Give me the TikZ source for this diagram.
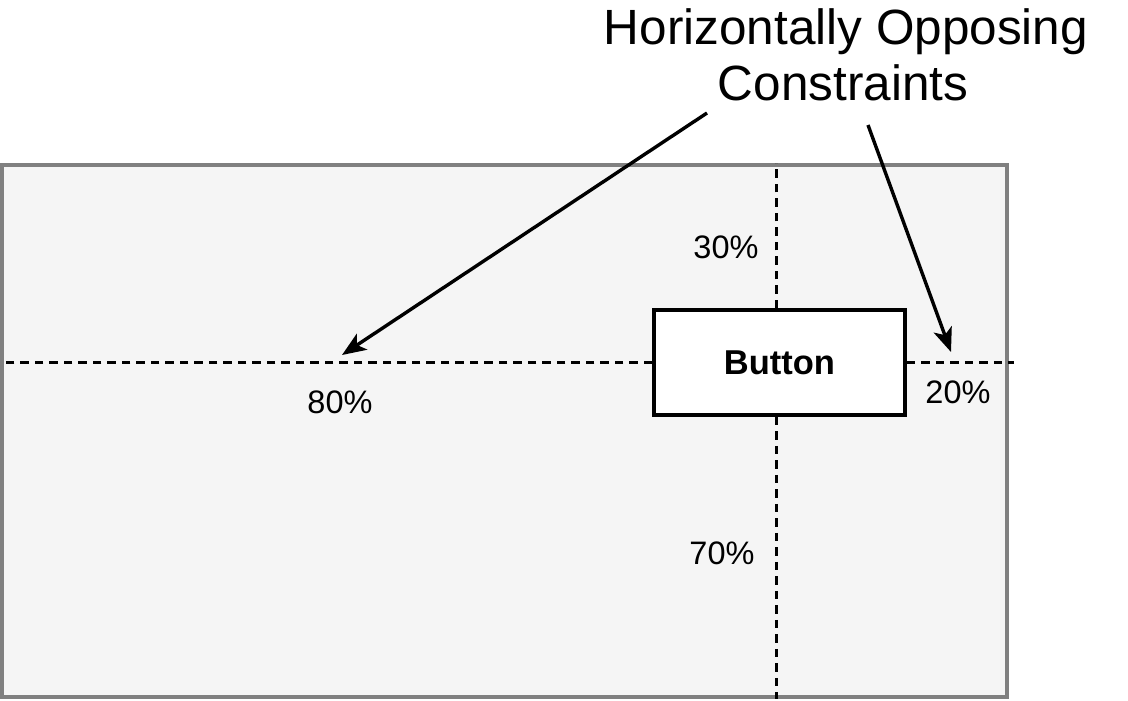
\documentclass[tikz,border=0pt]{standalone}
\usepackage{fontspec}
\setmainfont{Liberation Sans}
\usetikzlibrary{arrows.meta}
\begin{document}
\begin{tikzpicture}[x=1pt,y=-1pt,
  frame/.style={draw=black!50, fill=black!4, line width=3.5pt, minimum width=1005pt, minimum height=532pt, inner sep=0pt},
  btn/.style={draw=black, fill=white, line width=3.5pt, minimum width=251pt, minimum height=105pt, inner sep=0pt, font=\fontsize{34.5}{40}\selectfont\bfseries},
  guide/.style={line width=3.2pt, dash pattern=on 8.5pt off 6pt},
  pct/.style={inner sep=0pt, font=\fontsize{32.5}{38}\selectfont},
  ttl/.style={inner sep=0pt, anchor=base, font=\fontsize{49.5}{56}\selectfont},
  callout/.style={line width=3.4pt, -{Stealth[length=24pt,width=19pt,inset=6pt]}}]
\useasboundingbox (0,0) rectangle (1128,701);
\node[frame] (outer) at (504.5,431) {};
\node[btn] (button) at (779.5,362.5) {Button};
\draw[guide] ([xshift=-3pt]button.north) -- ([xshift=-3pt]button.north |- outer.north);
\draw[guide] ([xshift=-3pt]button.south) -- ([xshift=-3pt]button.south |- outer.south);
\draw[guide] (button.west) -- (button.west -| outer.west);
\draw[guide] (button.east) -- ([xshift=5pt]button.east -| outer.east);
\node[pct] (p30) at (726,247) {30\%};
\node[pct] (p70) at (722,553) {70\%};
\node[pct] (p80) at (340,402) {80\%};
\node[pct] (p20) at (958,392) {20\%};
\node[ttl] (title1) at (846,45) {Horizontally Opposing};
\node[ttl] (title2) at (843,100) {Constraints};
\coordinate (s1) at (707,113);
\coordinate (e1) at (342,355);
\coordinate (s2) at (868,125);
\coordinate (e2) at (951,352);
\draw[callout] (s1) -- (e1);
\draw[callout] (s2) -- (e2);
\end{tikzpicture}
\end{document}
